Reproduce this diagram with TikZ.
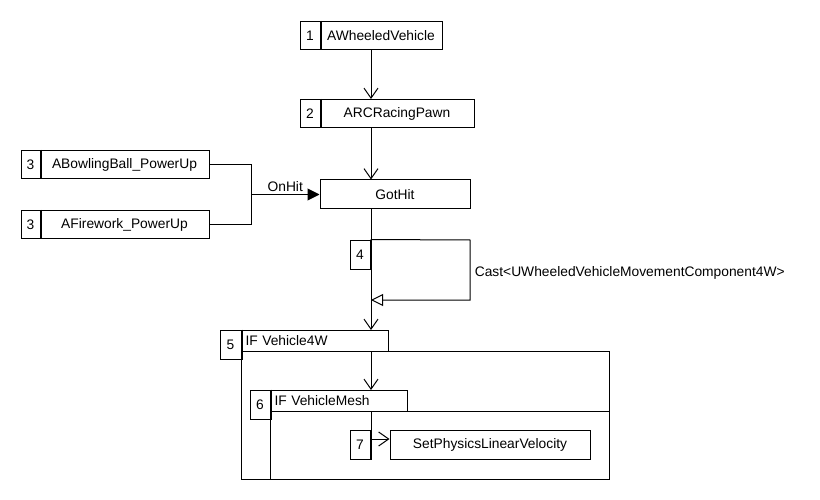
\documentclass[tikz,border=0pt]{standalone}
\usepackage{fontspec}
\setmainfont{Liberation Sans}
\usetikzlibrary{arrows.meta}
\begin{document}
\begin{tikzpicture}[x=1pt,y=-1pt,
  every node/.style={font=\fontsize{13.8}{16}\selectfont},
  bx/.style={draw,line width=1pt,inner sep=0pt,minimum height=28pt},
  numbox/.style={bx,minimum width=20pt},
  tab/.style={draw,line width=1pt,inner xsep=4pt,inner ysep=0pt,minimum height=21pt,anchor=north west,align=left},
  thk/.style={line width=2pt},
  ln/.style={line width=1pt},
  varr/.style={ln,-{Straight Barb[length=10pt,width=14pt]}},
  farr/.style={ln,-{Triangle[length=12pt,width=12pt]}},
  oarr/.style={ln,-{Triangle[open,length=12pt,width=12pt,fill=white]}}]
\useasboundingbox (0,0) rectangle (820,500);
\coordinate (sp) at (371,0);
% box 1
\node[numbox] (n1) at (310,35.5) {1};
\node[bx,minimum width=122pt] (b1) at (381,35.5) {AWheeledVehicle};
\draw[thk] (n1.north east) -- (n1.south east);
% box 2
\node[numbox] (n2) at (310,113.5) {2};
\node[bx,minimum width=154pt] (b2) at (397,113.5) {ARCRacingPawn};
\draw[thk] (n2.north east) -- (n2.south east);
% box 3a / 3b
\node[numbox,minimum width=19pt] (n3a) at (30.5,164.5) {3};
\node[bx,minimum width=169pt] (b3a) at (124.5,164.5) {ABowlingBall\_PowerUp};
\draw[thk] (n3a.north east) -- (n3a.south east);
\node[numbox,minimum width=19pt] (n3b) at (30.5,224.5) {3};
\node[bx,minimum width=169pt] (b3b) at (124.5,224.5) {AFirework\_PowerUp};
\draw[thk] (n3b.north east) -- (n3b.south east);
% GotHit
\node[bx,minimum width=150pt,minimum height=29pt] (gh) at (395,194.5) {GotHit};
% box 4
\node[numbox,minimum height=29pt] (n4) at (360,254.5) {4};
\draw[thk] (n4.north east) -- (n4.south east);
% box 5
\node[numbox,minimum width=21pt,minimum height=29pt] (n5) at (230.5,344.5) {5};
\node[tab,text width=139pt] (h5) at (241,330) {IF Vehicle4W};
\draw[ln] (241,351) rectangle (609,479);
\draw[thk] (n5.north east) -- (n5.south east);
% box 6
\node[numbox,minimum height=29pt] (n6) at (260,404.5) {6};
\node[tab,text width=129pt] (h6) at (270,390) {IF VehicleMesh};
\draw[ln] (609,411) -- (270,411) -- (270,479);
\draw[thk] (n6.north east) -- (n6.south east);
% box 7
\node[numbox,minimum height=29pt] (n7) at (360,444.5) {7};
\node[bx,minimum width=200pt,minimum height=29pt] (b7) at (490,444.5) {SetPhysicsLinearVelocity};
\draw[thk] (n7.north east) -- (n7.south east);
% connectors
\draw[varr] (sp |- b1.south) -- (sp |- b2.north);
\draw[varr] (sp |- b2.south) -- (sp |- gh.north);
\coordinate (j) at (251,194.5);
\draw[ln] (b3a.east) -| (j);
\draw[ln] (b3b.east) -| (j);
\draw[farr] (j) -- node[above,pos=0.5,yshift=-1pt] {OnHit} (gh.west);
\draw[varr] (sp |- gh.south) -- (sp |- h5.north);
\coordinate (c1) at (470,240);
\coordinate (c2) at (470,300);
\draw[oarr] (n4.north east) -- (c1) -- node[right,pos=0.55,xshift=1pt] {Cast<UWheeledVehicleMovementComponent4W>} (c2) -- (sp |- c2);
\draw[varr] (sp |- h5.south) -- (sp |- h6.north);
\coordinate (c7) at (371,439);
\draw[ln] (sp |- h6.south) -- (c7);
\draw[varr] (c7) -- (c7 -| b7.west);
\end{tikzpicture}
\end{document}
